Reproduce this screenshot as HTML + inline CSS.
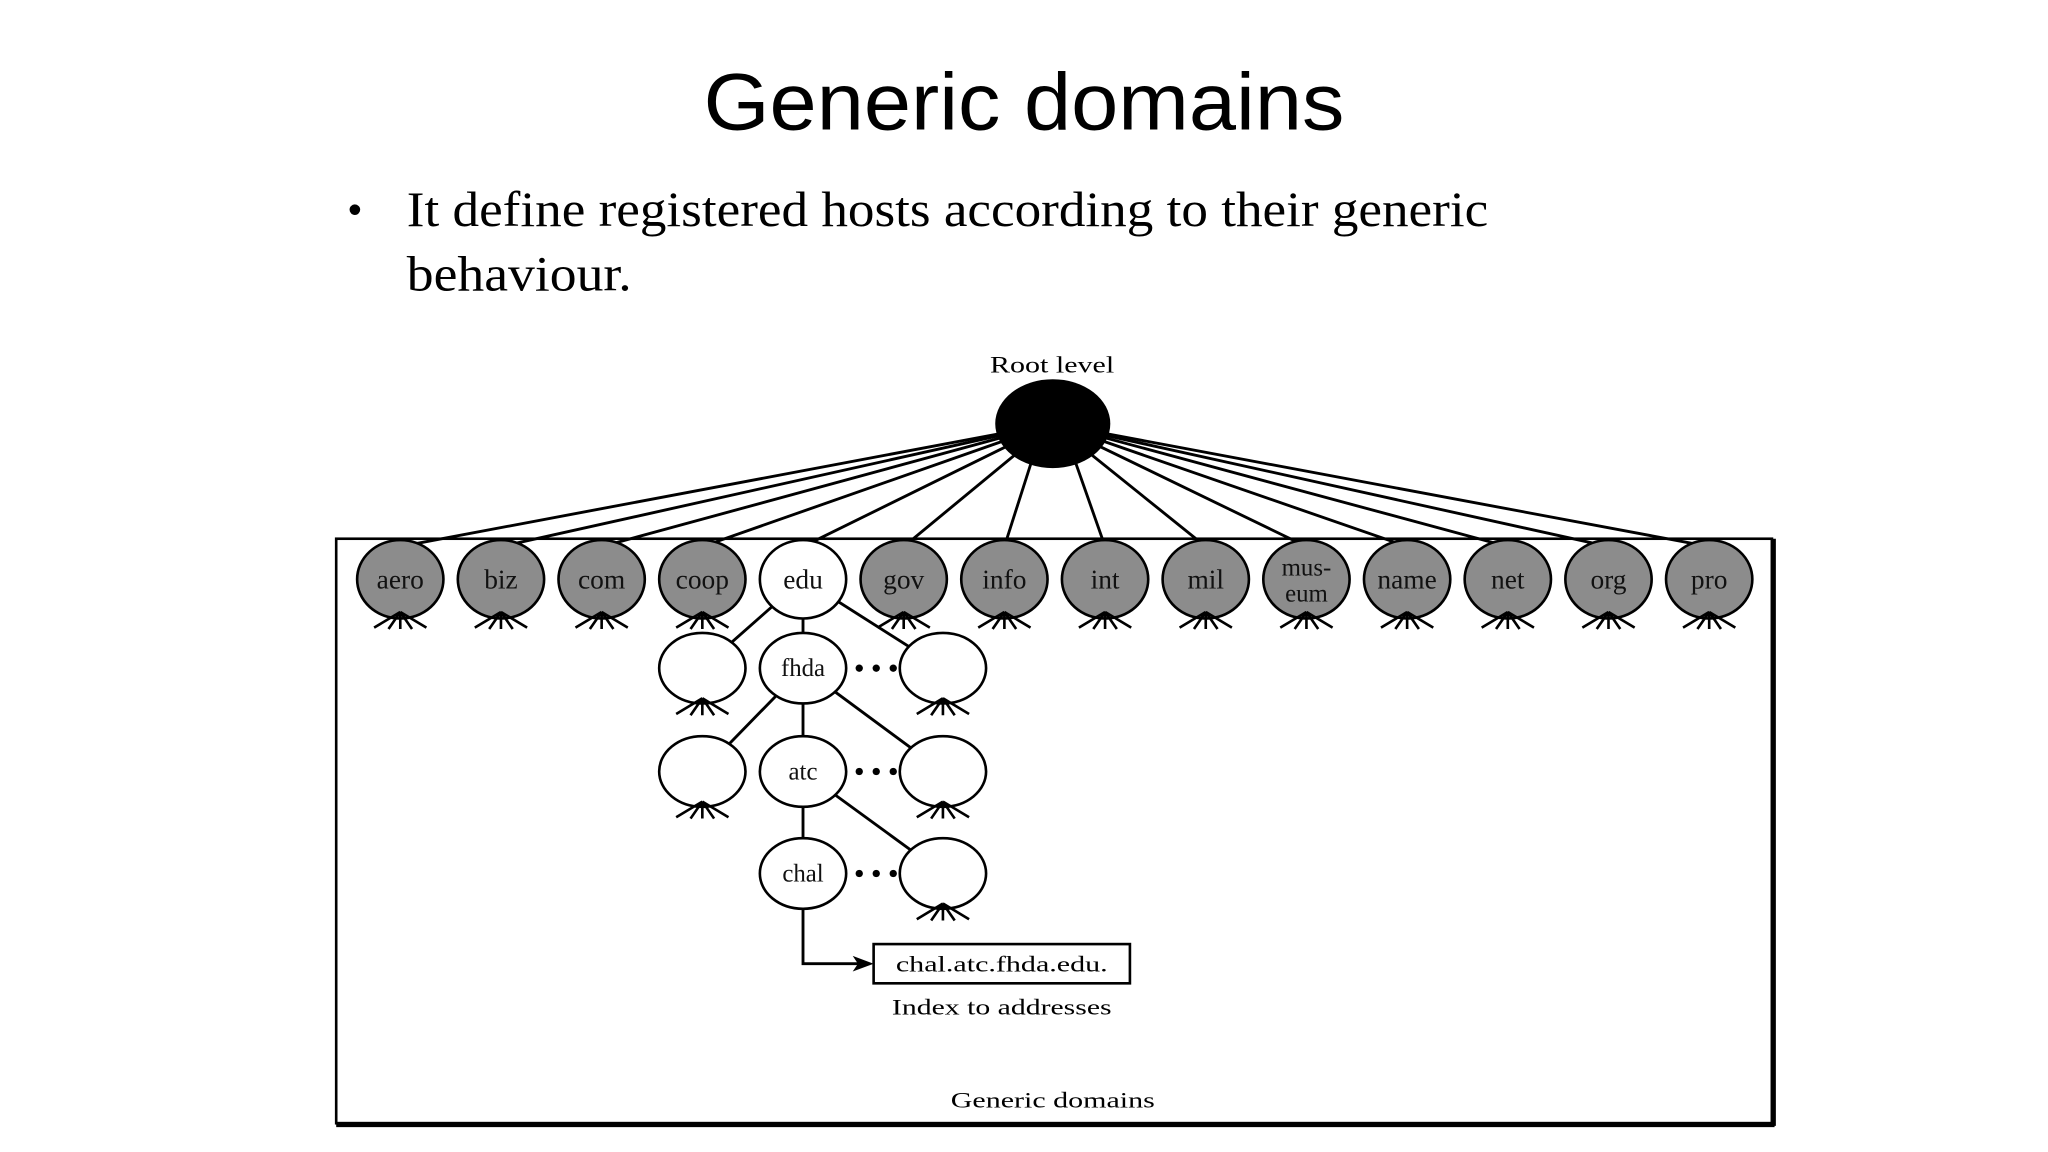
<!DOCTYPE html>
<html><head><meta charset="utf-8"><style>
html,body{margin:0;padding:0;background:#fff}
svg{display:block}
</style></head><body>
<svg width="2048" height="1152" viewBox="0 0 1566 881" xmlns="http://www.w3.org/2000/svg">
<rect width="1566" height="881" fill="#fff"/>
<text x="538" y="99" textLength="490" lengthAdjust="spacingAndGlyphs" font-family="Liberation Sans, sans-serif" font-size="62" fill="#000">Generic domains</text>
<text x="266" y="170" font-family="Liberation Sans, sans-serif" font-size="30">•</text>
<text x="311" y="173" textLength="827" lengthAdjust="spacingAndGlyphs" font-family="Liberation Serif, serif" font-size="38">It define registered hosts according to their generic</text>
<text x="311" y="222" textLength="172" lengthAdjust="spacingAndGlyphs" font-family="Liberation Serif, serif" font-size="38">behaviour.</text>
<text x="757" y="285" textLength="95" lengthAdjust="spacingAndGlyphs" font-family="Liberation Serif, serif" font-size="18">Root level</text>
<g stroke="#000" stroke-width="2.2" fill="none">
<rect x="257" y="412" width="1098" height="447" stroke-width="2"/>
<line x1="1356" y1="412" x2="1356" y2="861" stroke-width="4"/>
<line x1="257" y1="860" x2="1357" y2="860" stroke-width="4"/>
</g>
<g stroke="#000" stroke-width="2.2">
<line x1="805" y1="324" x2="306" y2="418"/>
<line x1="805" y1="324" x2="383" y2="418"/>
<line x1="805" y1="324" x2="460" y2="418"/>
<line x1="805" y1="324" x2="537" y2="418"/>
<line x1="805" y1="324" x2="614" y2="418"/>
<line x1="805" y1="324" x2="691" y2="418"/>
<line x1="798" y1="324" x2="768" y2="418"/>
<line x1="812" y1="324" x2="845" y2="418"/>
<line x1="805" y1="324" x2="922" y2="418"/>
<line x1="805" y1="324" x2="999" y2="418"/>
<line x1="805" y1="324" x2="1076" y2="418"/>
<line x1="805" y1="324" x2="1153" y2="418"/>
<line x1="805" y1="324" x2="1230" y2="418"/>
<line x1="805" y1="324" x2="1307" y2="418"/>
<line x1="614" y1="443" x2="537" y2="511"/>
<line x1="614" y1="443" x2="614" y2="511"/>
<line x1="614" y1="443" x2="721" y2="511"/>
<line x1="614" y1="511" x2="537" y2="590"/>
<line x1="614" y1="511" x2="614" y2="590"/>
<line x1="614" y1="511" x2="721" y2="590"/>
<line x1="614" y1="590" x2="614" y2="668"/>
<line x1="614" y1="590" x2="721" y2="668"/>
<polyline points="614,668 614,737 660,737" fill="none"/>
</g>
<polygon points="668,737 652,731 656,737 652,743" fill="#000"/>
<ellipse cx="805" cy="324" rx="44" ry="34" fill="#000"/>
<g stroke="#000" stroke-width="2">
<g fill="#8c8c8c">
<ellipse cx="306" cy="443" rx="33" ry="30"/><ellipse cx="383" cy="443" rx="33" ry="30"/>
<ellipse cx="460" cy="443" rx="33" ry="30"/><ellipse cx="537" cy="443" rx="33" ry="30"/>
<ellipse cx="691" cy="443" rx="33" ry="30"/><ellipse cx="768" cy="443" rx="33" ry="30"/>
<ellipse cx="845" cy="443" rx="33" ry="30"/><ellipse cx="922" cy="443" rx="33" ry="30"/>
<ellipse cx="999" cy="443" rx="33" ry="30"/><ellipse cx="1076" cy="443" rx="33" ry="30"/>
<ellipse cx="1153" cy="443" rx="33" ry="30"/><ellipse cx="1230" cy="443" rx="33" ry="30"/>
<ellipse cx="1307" cy="443" rx="33" ry="30"/>
</g>
<g fill="#fff">
<ellipse cx="614" cy="443" rx="33" ry="30"/>
<ellipse cx="537" cy="511" rx="33" ry="27"/><ellipse cx="614" cy="511" rx="33" ry="27"/><ellipse cx="721" cy="511" rx="33" ry="27"/>
<ellipse cx="537" cy="590" rx="33" ry="27"/><ellipse cx="614" cy="590" rx="33" ry="27"/><ellipse cx="721" cy="590" rx="33" ry="27"/>
<ellipse cx="614" cy="668" rx="33" ry="27"/><ellipse cx="721" cy="668" rx="33" ry="27"/>
</g>
</g>
<g font-family="Liberation Serif, serif" font-size="21" text-anchor="middle" fill="#111">
<text x="306" y="450">aero</text><text x="383" y="450">biz</text><text x="460" y="450">com</text><text x="537" y="450">coop</text>
<text x="614" y="450">edu</text><text x="691" y="450">gov</text><text x="768" y="450">info</text><text x="845" y="450">int</text>
<text x="922" y="450">mil</text><text x="999" y="440" font-size="19">mus-</text><text x="999" y="460" font-size="19">eum</text>
<text x="1076" y="450">name</text><text x="1153" y="450">net</text><text x="1230" y="450">org</text><text x="1307" y="450">pro</text>
<text x="614" y="517" font-size="19">fhda</text><text x="614" y="596" font-size="19">atc</text><text x="614" y="674" font-size="19">chal</text>
</g>
<g fill="#000">
<circle cx="657" cy="511" r="2.8"/><circle cx="670" cy="511" r="2.8"/><circle cx="683" cy="511" r="2.8"/>
<circle cx="657" cy="590" r="2.8"/><circle cx="670" cy="590" r="2.8"/><circle cx="683" cy="590" r="2.8"/>
<circle cx="657" cy="668" r="2.8"/><circle cx="670" cy="668" r="2.8"/><circle cx="683" cy="668" r="2.8"/>
</g>
<defs>
<g id="ft" stroke="#000" stroke-width="2" fill="none">
<path d="M0 0 L-20 12 M0 0 L-9 13 M0 0 L0 13 M0 0 L9 13 M0 0 L20 12"/>
</g>
</defs>
<use href="#ft" x="306" y="468"/><use href="#ft" x="383" y="468"/><use href="#ft" x="460" y="468"/><use href="#ft" x="537" y="468"/>
<use href="#ft" x="691" y="468"/><use href="#ft" x="768" y="468"/><use href="#ft" x="845" y="468"/><use href="#ft" x="922" y="468"/>
<use href="#ft" x="999" y="468"/><use href="#ft" x="1076" y="468"/><use href="#ft" x="1153" y="468"/><use href="#ft" x="1230" y="468"/>
<use href="#ft" x="1307" y="468"/>
<use href="#ft" x="537" y="534"/><use href="#ft" x="721" y="534"/>
<use href="#ft" x="537" y="613"/><use href="#ft" x="721" y="613"/>
<use href="#ft" x="721" y="691"/>
<rect x="668" y="722" width="196" height="30" fill="#fff" stroke="#000" stroke-width="2"/>
<g font-family="Liberation Serif, serif" font-size="17" fill="#000">
<text x="685" y="743" textLength="162" lengthAdjust="spacingAndGlyphs">chal.atc.fhda.edu.</text>
<text x="682" y="776" textLength="168" lengthAdjust="spacingAndGlyphs">Index to addresses</text>
<text x="727" y="847" textLength="156" lengthAdjust="spacingAndGlyphs">Generic domains</text>
</g>
</svg>
</body></html>
